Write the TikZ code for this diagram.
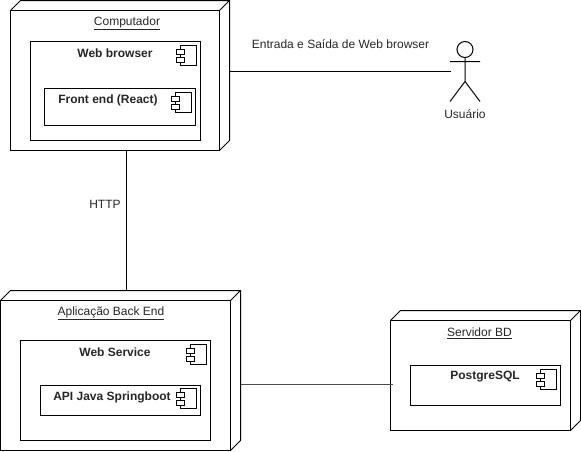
\documentclass[tikz,border=0pt]{standalone}
\usepackage{fontspec}
\setmainfont{Liberation Sans}
\begin{document}
\begin{tikzpicture}[x=1pt,y=-1pt,line width=1pt,
  lbl/.style={inner sep=0pt,font=\fontsize{12}{14}\selectfont,text=black!85},
  blbl/.style={lbl,font=\fontsize{12}{14}\selectfont\bfseries},
  box/.style={draw,inner sep=0pt,outer sep=0pt,fill=white},
  link/.style={draw,line width=1pt}]
\useasboundingbox (0,0) rectangle (581,451);
\newcommand{\rectnode}[5]{\node[box,anchor=north west,minimum width=#4pt,minimum height=#5pt] (#1) at (#2,#3) {};}
\newcommand{\cubeback}[1]{\draw (#1.north west) -- ++(10,-10) -- ([shift={(10,-10)}]#1.north east) -- ([shift={(10,-10)}]#1.south east) -- (#1.south east) (#1.north east) -- ++(10,-10);}
\newcommand{\compicon}[3]{%
  \draw (#2,#3) rectangle ++(16,20);
  \draw[fill=white] (#2-4,#3+3.5) rectangle ++(8,5);
  \draw[fill=white] (#2-4,#3+11.5) rectangle ++(8,5);}
% nodes
\rectnode{comp}{10.5}{10.5}{209}{140}
\cubeback{comp}
\rectnode{browser}{30.5}{41.5}{170}{99}
\rectnode{front}{44.5}{88.5}{150.5}{37}
\rectnode{back}{0.5}{300.5}{230}{150}
\cubeback{back}
\rectnode{service}{20.5}{340.5}{190}{100}
\rectnode{api}{40.5}{385.5}{160}{30}
\rectnode{bd}{390.5}{320.5}{180}{110}
\cubeback{bd}
\rectnode{pg}{410.5}{365.5}{150}{40}
% component icons
\compicon{browser}{180.5}{45.5}
\compicon{front}{175}{92.5}
\compicon{service}{190.5}{344.5}
\compicon{api}{180.5}{388.5}
\compicon{pg}{540.5}{369.5}
% labels
\node[lbl] (tcomp) at (127,23) {\underline{Computador}};
\node[blbl] (tbrowser) at (115,53) {Web browser};
\node[blbl] (tfront) at (108,100.5) {Front end (React)};
\node[lbl] (tback) at (111,313) {\underline{Aplicação Back End}};
\node[blbl] (tservice) at (115,352.5) {Web Service};
\node[blbl] (tapi) at (112,397.5) {API Java Springboot};
\node[lbl] (tbd) at (479.5,333) {\underline{Servidor BD}};
\node[blbl] (tpg) at (485,377) {PostgreSQL};
% actor
\coordinate (head) at (465,49.5);
\draw (head) circle (8);
\draw (465,57.5) -- (465,81.5) (450,61.5) -- (480,61.5) (450,101.5) -- (465,81.5) -- (480,101.5);
\coordinate (actor) at (451,71.5);
\node[lbl] (tactor) at (465,114.5) {Usuário};
% connectors
\draw[link] ([shift={(10,-9)}]comp.east) -- (actor);
\draw[link] ([xshift=11pt]comp.south) -- ([shift={(10.5,-10)}]back.north);
\draw[link,black!70] ([shift={(10,9)}]back.east) -- (393,384.5);
\node[lbl] (tedge1) at (340.5,44.5) {Entrada e Saída de Web browser};
\node[lbl] (tedge2) at (105,204.5) {HTTP};
\end{tikzpicture}
\end{document}
